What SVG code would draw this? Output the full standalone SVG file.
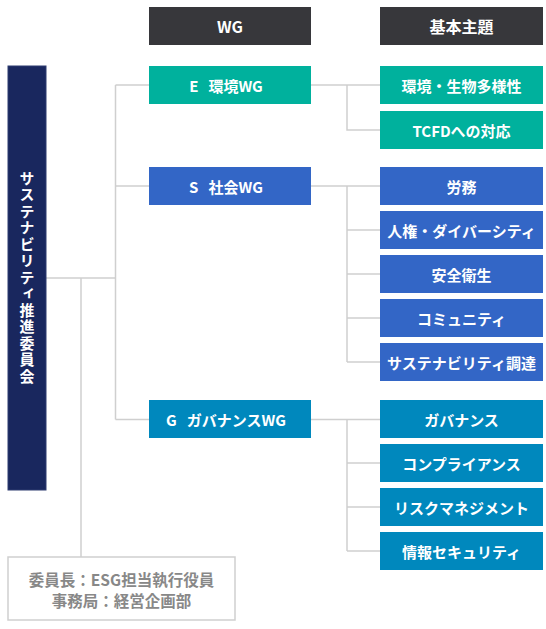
<svg xmlns="http://www.w3.org/2000/svg" width="546" height="629" viewBox="0 0 546 629">
<style>
text{font-family:"Noto Sans CJK JP","Noto Sans",sans-serif;font-weight:700;font-size:15px;fill:#fff;text-anchor:middle;dominant-baseline:central}
.hd{fill:#37373b}
.ht{font-size:16px}
.e{fill:#00b19d}
.s{fill:#3366c6}
.g{fill:#0088bd}
.ln{stroke:#cfcfcf;stroke-width:1.5;fill:none}
.mt{fill:#888;font-size:15.5px}
</style>
<rect width="546" height="629" fill="#fff"/>
<g id="connectors" class="ln">
<path d="M46 278H115.5M115.5 85V419.5M115.5 85H149M115.5 186H149M115.5 419.5H149"/>
<path d="M81 278V557"/>
<path d="M311 85H380M347 85V130H380"/>
<path d="M311 186H380M347 186V362M347 230H380M347 274H380M347 318H380M347 362H380"/>
<path d="M311 419.5H380M347 419.5V551M347 463H380M347 507H380M347 551H380"/>
</g>
<g id="hdr-wg"><rect class="hd" x="149" y="7" width="162" height="38"/><text class="ht" x="230" y="26">WG</text></g>
<g id="hdr-theme"><rect class="hd" x="380" y="7" width="163" height="38"/><text class="ht" x="461.5" y="26">基本主題</text></g>
<g id="committee"><rect x="8" y="66" width="38" height="424" fill="#19275e" stroke="#2e3c70" stroke-width="1"/><text x="27" y="278" style="writing-mode:vertical-rl;letter-spacing:1.5px">サステナビリティ推進委員会</text></g>
<g id="wg-e"><rect class="e" x="149" y="66" width="162" height="38"/><text x="226" y="85">E<tspan dx="10">環境WG</tspan></text></g>
<g id="t-env"><rect class="e" x="380" y="66" width="163" height="38"/><text x="461.5" y="85">環境・生物多様性</text></g>
<g id="t-tcfd"><rect class="e" x="380" y="111" width="163" height="38"/><text x="461.5" y="130">TCFDへの対応</text></g>
<g id="wg-s"><rect class="s" x="149" y="167" width="162" height="38"/><text x="226" y="186">S<tspan dx="10">社会WG</tspan></text></g>
<g id="t-labor"><rect class="s" x="380" y="167" width="163" height="38"/><text x="461.5" y="186">労務</text></g>
<g id="t-hr"><rect class="s" x="380" y="211" width="163" height="38"/><text x="461.5" y="230">人権・ダイバーシティ</text></g>
<g id="t-safety"><rect class="s" x="380" y="255" width="163" height="38"/><text x="461.5" y="274">安全衛生</text></g>
<g id="t-comm"><rect class="s" x="380" y="299" width="163" height="38"/><text x="461.5" y="318">コミュニティ</text></g>
<g id="t-proc"><rect class="s" x="380" y="343" width="163" height="38"/><text x="461.5" y="362">サステナビリティ調達</text></g>
<g id="wg-g"><rect class="g" x="149" y="400" width="162" height="38"/><text x="226" y="419">G<tspan dx="10">ガバナンスWG</tspan></text></g>
<g id="t-gov"><rect class="g" x="380" y="400" width="163" height="38"/><text x="461.5" y="419">ガバナンス</text></g>
<g id="t-comp"><rect class="g" x="380" y="444" width="163" height="38"/><text x="461.5" y="463">コンプライアンス</text></g>
<g id="t-risk"><rect class="g" x="380" y="488" width="163" height="38"/><text x="461.5" y="507">リスクマネジメント</text></g>
<g id="t-info"><rect class="g" x="380" y="532" width="163" height="38"/><text x="461.5" y="551">情報セキュリティ</text></g>
<g id="members"><rect x="8" y="557" width="227" height="63" fill="#fff" stroke="#cfcfcf" stroke-width="1.5"/><text class="mt" x="121.5" y="579">委員長：ESG担当執行役員</text><text class="mt" x="121.5" y="600">事務局：経営企画部</text></g>
</svg>
